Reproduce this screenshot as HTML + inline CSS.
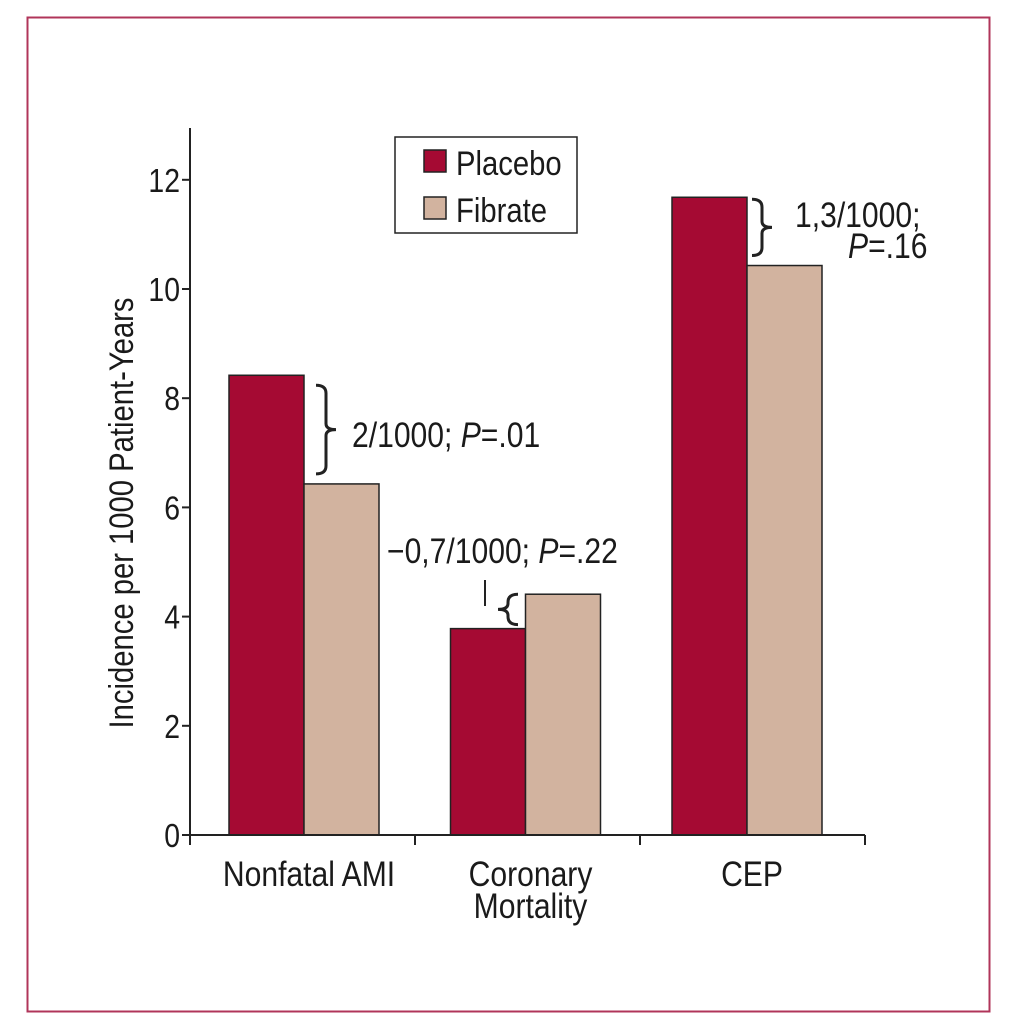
<!DOCTYPE html>
<html><head><meta charset="utf-8"><style>
html,body{margin:0;padding:0;background:#fff;}
svg{display:block;font-family:"Liberation Sans",sans-serif;}
</style></head><body>
<svg id="chart" width="1020" height="1033" viewBox="0 0 1020 1033">
<rect x="27.5" y="17.5" width="962" height="994" fill="none" stroke="#b0355a" stroke-width="2"/>
<g id="plot"></g>
</svg>
<script>
const categories = ["Nonfatal AMI", "Coronary|Mortality", "CEP"];
const placebo = [8.42, 3.78, 11.68];
const fibrate = [6.43, 4.41, 10.43];
const yTicks = [0, 2, 4, 6, 8, 10, 12];

const NS = "http://www.w3.org/2000/svg";
const g = document.getElementById("plot");
const x0 = 190, x1 = 865, yBase = 835, pxPerUnit = 54.6;
const y = v => yBase - v * pxPerUnit;
const catW = (x1 - x0) / 3;
const catCenter = i => 304 + 221.5 * i;
const barW = 75;
const SX = 0.86;
function mk(tag, attrs, txt) {
  const e = document.createElementNS(NS, tag);
  for (const k in attrs) e.setAttribute(k, attrs[k]);
  if (txt !== undefined) e.textContent = txt;
  g.appendChild(e);
  return e;
}
function txt(x, yy, s, size, anchor, rot) {
  const tr = rot ? `translate(${x},${yy}) rotate(-90) scale(${SX},1)` : `translate(${x},${yy}) scale(${SX},1)`;
  return mk("text", {x: 0, y: 0, transform: tr, "text-anchor": anchor || "start", "font-size": size, fill: "#1a1a1a"}, s);
}
placebo.forEach((v, i) => {
  const r = mk("rect", {x: catCenter(i) - barW, y: y(v), width: barW, height: yBase - y(v), fill: "#a50a33", stroke: "#222", "stroke-width": 1.5});
  
  
});
fibrate.forEach((v, i) => {
  const r = mk("rect", {x: catCenter(i), y: y(v), width: barW, height: yBase - y(v), fill: "#d2b39f", stroke: "#222", "stroke-width": 1.5});
  
  
});
const ya = mk("line", {x1: x0, y1: 128, x2: x0, y2: yBase, stroke: "#222", "stroke-width": 2});


const xa = mk("line", {x1: x0, y1: yBase, x2: x1, y2: yBase, stroke: "#222", "stroke-width": 2});


yTicks.forEach(t => {
  mk("line", {x1: x0 - 8, y1: y(t), x2: x0, y2: y(t), stroke: "#222", "stroke-width": 2});
  const tl = txt(x0 - 10, y(t) + 12, t, 33, "end");
  
  
});
for (let i = 0; i <= 3; i++) {
  mk("line", {x1: x0 + catW * i, y1: yBase, x2: x0 + catW * i, y2: yBase + 10, stroke: "#222", "stroke-width": 2});
}
categories.forEach((c, i) => {
  c.split("|").forEach((ln, j) => {
    const t = txt(catCenter(i) + 5, 886 + j * 32, ln, 35, "middle");
    
    
  });
});
const yt = txt(133, 513, "Incidence per 1000 Patient-Years", 34, "middle", true);


const lb = mk("rect", {x: 395, y: 137, width: 182, height: 96, fill: "#fff", stroke: "#222", "stroke-width": 1.5});


mk("rect", {x: 424, y: 150, width: 22, height: 22, fill: "#a50a33", stroke: "#222", "stroke-width": 1.5});
mk("rect", {x: 424, y: 197, width: 22, height: 22, fill: "#d2b39f", stroke: "#222", "stroke-width": 1.5});
const l1 = txt(456, 175, "Placebo", 34);


const l2 = txt(456, 222, "Fibrate", 34);


function brace(x, ya_, yb, dir) {
  const m = (ya_ + yb) / 2, d = 10 * dir;
  mk("path", {d: `M${x},${ya_} Q${x+d},${ya_} ${x+d},${ya_+8} L${x+d},${m-6} Q${x+d},${m} ${x+2*d},${m} Q${x+d},${m} ${x+d},${m+6} L${x+d},${yb-8} Q${x+d},${yb} ${x},${yb}`, fill: "none", stroke: "#222", "stroke-width": 3});
}
brace(316, y(placebo[0]) + 10, y(fibrate[0]) - 10, 1);
brace(518, y(fibrate[1]), y(placebo[1]) - 4, -1);
mk("line", {x1: 485, y1: 580, x2: 485, y2: 606, stroke: "#222", "stroke-width": 2});
brace(752, y(placebo[2]) + 2, y(fibrate[2]) - 10, 1);
function ann(x, yy, parts, name) {
  const t = txt(x, yy, undefined, 35);
  parts.forEach(p => {
    const s = document.createElementNS(NS, "tspan");
    s.textContent = p[0];
    if (p[1]) s.setAttribute("font-style", "italic");
    t.appendChild(s);
  });
  
  
}
ann(352, 447, [["2/1000; "], ["P", 1], ["=.01"]], "annotation-ami");
ann(387, 563, [["\u22120,7/1000; "], ["P", 1], ["=.22"]], "annotation-coronary");
ann(795, 227, [["1,3/1000;"]], "annotation-cep-1");
ann(848, 258, [["P", 1], ["=.16"]], "annotation-cep-2");
</script>
</body></html>
